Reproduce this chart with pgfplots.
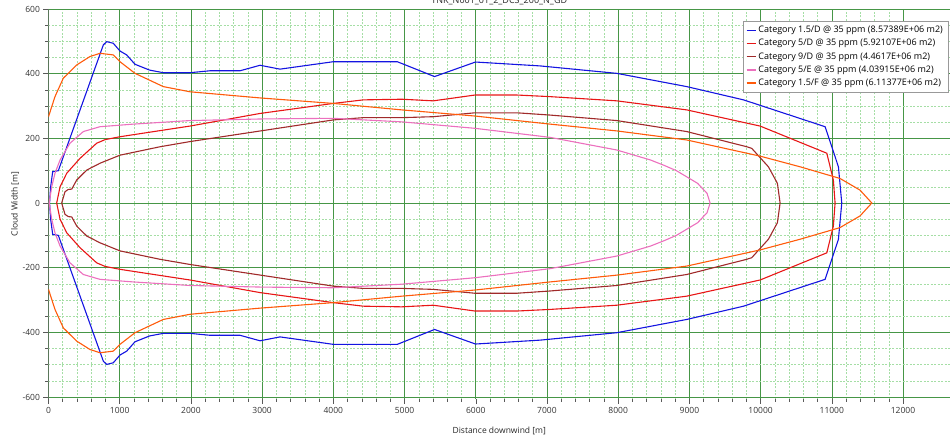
\documentclass[border=0pt]{standalone}
\usepackage{pgfplots}
\pgfplotsset{compat=1.18}
\usepackage{fontspec}
\setmainfont{Open Sans}
\definecolor{cblue}{RGB}{20,20,225}
\definecolor{cred}{RGB}{232,22,22}
\definecolor{cbrown}{RGB}{160,42,42}
\definecolor{cpink}{RGB}{236,112,190}
\definecolor{corange}{RGB}{255,90,10}
\definecolor{grmaj}{RGB}{70,150,70}
\definecolor{grmin}{RGB}{165,222,165}
\begin{document}
\begin{tikzpicture}
\begin{axis}[
 width=901.5pt, height=390pt, scale only axis,
 xmin=0, xmax=12660, ymin=-606, ymax=600,
 xtick={0,1000,...,12000}, ytick={-600,-400,...,600},
 scaled x ticks=false, scaled y ticks=false,
 minor x tick num=4, minor y tick num=3,
 grid=both,
 major grid style={color=grmaj, line width=0.6pt},
 minor grid style={color=grmin, line width=0.5pt, dash pattern=on 2pt off 1.5pt},
 axis line style={draw=none},
 tick pos=left, tick align=outside,
 major tick length=5pt, minor tick length=3pt,
 tick style={color=black!65, line width=0.5pt},
 ticklabel style={font=\fontsize{8.5}{10}\selectfont, color=black!80},
 /pgf/number format/assume math mode=true,
 /pgf/number format/1000 sep={},
 xlabel={Distance downwind [m]}, ylabel={Cloud Width [m]},
 label style={font=\fontsize{8.5}{10}\selectfont, color=black!85},
 xlabel style={at={(axis description cs:0.5,-0.0872)}, anchor=base},
 ylabel style={at={(axis description cs:-0.0372,0.5)}, anchor=center},
 legend cell align=left,
 legend style={at={(axis description cs:1,1)}, anchor=north east, xshift=-2pt, yshift=-12pt,
   draw=black!40, fill=white, font=\fontsize{9}{11}\selectfont, row sep=1.2pt, inner sep=3pt},
 legend image code/.code={\draw[#1, line width=1.4pt] (0pt,0pt) -- (9pt,0pt);},
 every axis plot/.append style={line width=1.1pt},
]
\draw[black!60, line width=0.6pt] (rel axis cs:0,1) -- (rel axis cs:0,0) -- (rel axis cs:1,0);

\addplot[cblue] coordinates {
(15,0)(30,50)(59,97)(138,100)(770,489)(817,499)(910,494)(1004,470)(1098,458)(1215,429)(1420,411)(1612,403)(1987,403)(2268,409)(2690,409)(2971,426)(3251,414)(4000,437)(4898,437)(5421,391)(5996,436)(6903,424)(7980,401)(8963,360)(9760,319)(10906,236)(11093,112)(11140,0)
(11093,-112)(10906,-236)(9760,-319)(8963,-360)(7980,-401)(6903,-424)(5996,-436)(5421,-391)(4898,-437)(4000,-437)(3251,-414)(2971,-426)(2690,-409)(2268,-409)(1987,-403)(1612,-403)(1420,-411)(1215,-429)(1098,-458)(1004,-470)(910,-494)(817,-499)(770,-489)(138,-100)(59,-97)(30,-50)(15,0)
};
\addlegendentry{Category 1.5/D @ 35 ppm (8.57389E+06 m2)}

\addplot[cred] coordinates {
(115,0)(162,50)(256,92)(442,138)(677,185)(794,196)(1004,205)(1987,238)(2971,277)(4000,308)(4421,319)(4961,321)(5404,316)(5990,334)(6576,334)(7044,329)(7980,316)(8963,288)(9993,238)(10930,154)(11022,71)(11046,0)
(11022,-71)(10930,-154)(9993,-238)(8963,-288)(7980,-316)(7044,-329)(6576,-334)(5990,-334)(5404,-316)(4961,-321)(4421,-319)(4000,-308)(2971,-277)(1987,-238)(1004,-205)(794,-196)(677,-185)(442,-138)(256,-92)(162,-50)(115,0)
};
\addlegendentry{Category 5/D @ 35 ppm (5.92107E+06 m2)}

\addplot[cbrown] coordinates {
(185,0)(232,35)(278,42)(326,43)(396,71)(537,102)(723,123)(1004,148)(1566,174)(1987,190)(4000,257)(4421,264)(4961,264)(5404,267)(5990,279)(6576,279)(7044,272)(7980,255)(8963,221)(9806,174)(9876,169)(10110,112)(10236,61)(10274,0)
(10236,-61)(10110,-112)(9876,-169)(9806,-174)(8963,-221)(7980,-255)(7044,-272)(6576,-279)(5990,-279)(5404,-267)(4961,-264)(4421,-264)(4000,-257)(1987,-190)(1566,-174)(1004,-148)(723,-123)(537,-102)(396,-71)(326,-43)(278,-42)(232,-35)(185,0)
};
\addlegendentry{Category 9/D @ 35 ppm (4.4617E+06 m2)}

\addplot[cpink] coordinates {
(10,0)(45,50)(91,92)(162,133)(302,185)(489,221)(723,236)(1191,244)(1987,255)(3000,260)(4000,262)(4961,251)(5990,231)(7044,203)(7980,164)(8455,133)(8650,116)(8818,100)(9115,61)(9248,30)(9291,0)
(9248,-30)(9115,-61)(8818,-100)(8650,-116)(8455,-133)(7980,-164)(7044,-203)(5990,-231)(4961,-251)(4000,-262)(3000,-260)(1987,-255)(1191,-244)(723,-236)(489,-221)(302,-185)(162,-133)(91,-92)(45,-50)(10,0)
};
\addlegendentry{Category 5/E @ 35 ppm (4.03915E+06 m2)}

\addplot[corange] coordinates {
(0,267)(91,329)(208,386)(396,427)(583,453)(723,463)(910,458)(1004,437)(1215,401)(1612,360)(1987,344)(2971,325)(4000,308)(4961,288)(5990,269)(7044,244)(7980,223)(8963,195)(9993,145)(10555,112)(11115,76)(11396,40)(11562,0)
(11396,-40)(11115,-76)(10555,-112)(9993,-145)(8963,-195)(7980,-223)(7044,-244)(5990,-269)(4961,-288)(4000,-308)(2971,-325)(1987,-344)(1612,-360)(1215,-401)(1004,-437)(910,-458)(723,-463)(583,-453)(396,-427)(208,-386)(91,-329)(0,-267)
};
\addlegendentry{Category 1.5/F @ 35 ppm (6.11377E+06 m2)}
\end{axis}
\node[anchor=base, font=\fontsize{9}{10}\selectfont, color=black!85] at ([yshift=5pt]current axis.north) {TNK\_N001\_01\_2\_DCS\_200\_N\_GD};
\pgfresetboundingbox
\path[use as bounding box] ([xshift=-48.5pt,yshift=-39pt]current axis.south west) rectangle ([xshift=2pt,yshift=9pt]current axis.north east);
\end{tikzpicture}
\end{document}
